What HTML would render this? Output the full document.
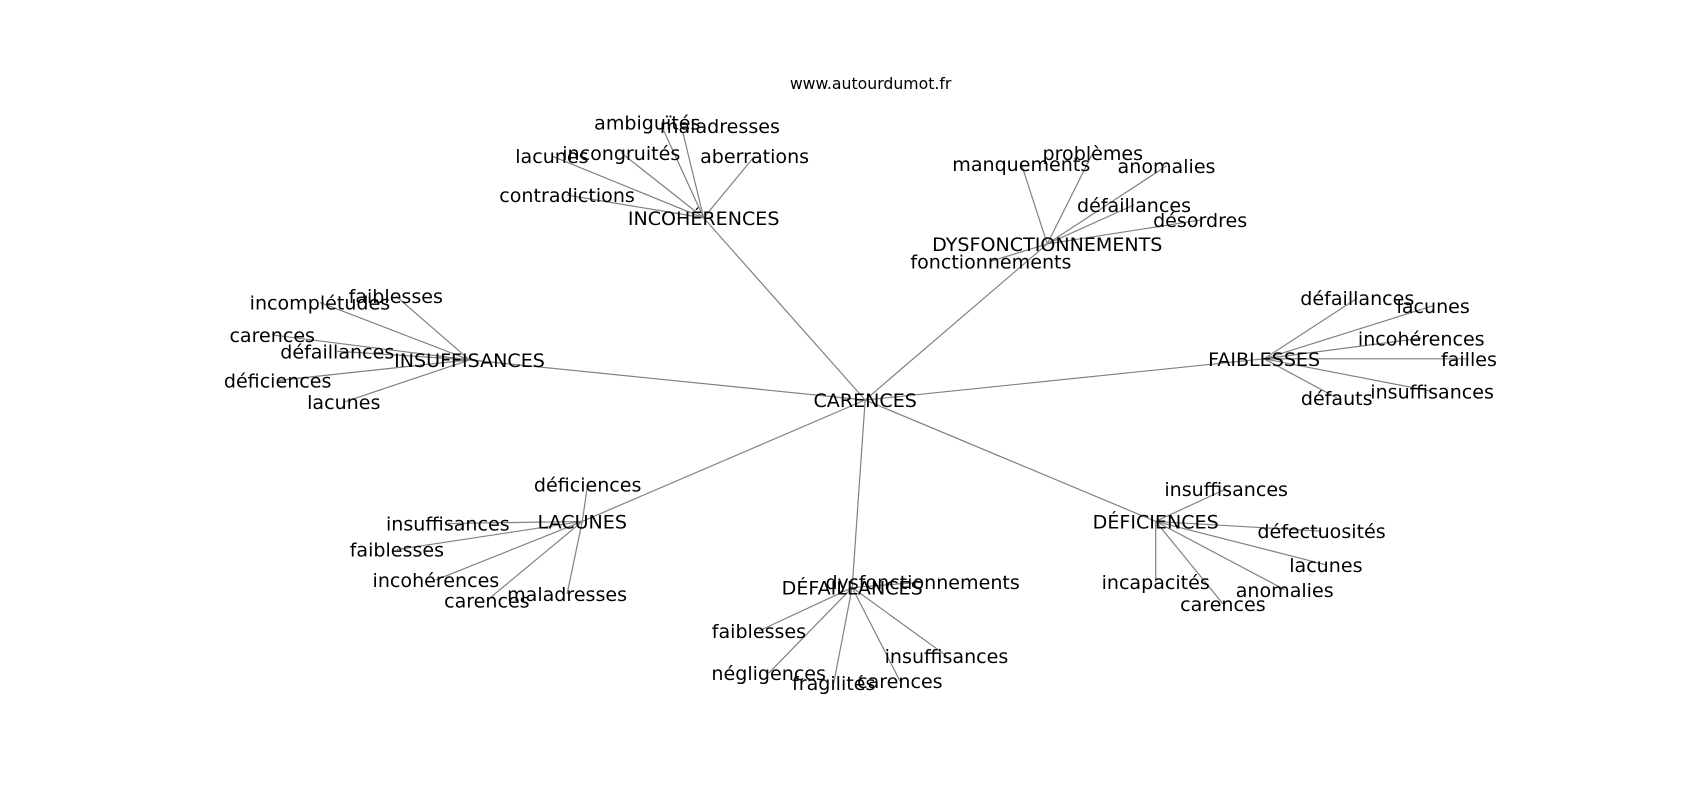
<!DOCTYPE html>
<html><head><meta charset="utf-8"><style>
html,body{margin:0;padding:0;background:#fff;width:1700px;height:800px;overflow:hidden}
text{font-family:"DejaVu Sans","Liberation Sans",sans-serif;font-size:17.6px;fill:#000;text-anchor:middle;dominant-baseline:central}
line{stroke:#808080;stroke-width:1.1}
</style></head><body>
<svg width="1700" height="800" viewBox="0 0 1568 738" xmlns="http://www.w3.org/2000/svg">
<g>
<line x1="798" y1="369" x2="649" y2="201"/><line x1="798" y1="369" x2="966" y2="225"/>
<line x1="798" y1="369" x2="433" y2="332"/><line x1="798" y1="369" x2="1166" y2="331"/>
<line x1="798" y1="369" x2="537" y2="481"/><line x1="798" y1="369" x2="786" y2="542"/>
<line x1="798" y1="369" x2="1066" y2="481"/>
<line x1="649" y1="201" x2="612" y2="120"/><line x1="649" y1="201" x2="630" y2="123"/>
<line x1="649" y1="201" x2="509" y2="144"/><line x1="649" y1="201" x2="573" y2="141"/>
<line x1="649" y1="201" x2="696" y2="144"/><line x1="649" y1="201" x2="523" y2="180"/>
<line x1="966" y1="225" x2="942" y2="151"/><line x1="966" y1="225" x2="1008" y2="141"/>
<line x1="966" y1="225" x2="1076" y2="153"/><line x1="966" y1="225" x2="1046" y2="189"/>
<line x1="966" y1="225" x2="1107" y2="203"/><line x1="966" y1="225" x2="914" y2="241"/>
<line x1="433" y1="332" x2="365" y2="273"/><line x1="433" y1="332" x2="295" y2="279"/>
<line x1="433" y1="332" x2="251" y2="309"/><line x1="433" y1="332" x2="311" y2="324"/>
<line x1="433" y1="332" x2="256" y2="351"/><line x1="433" y1="332" x2="317" y2="371"/>
<line x1="1166" y1="331" x2="1252" y2="275"/><line x1="1166" y1="331" x2="1322" y2="282"/>
<line x1="1166" y1="331" x2="1311" y2="312"/><line x1="1166" y1="331" x2="1355" y2="331"/>
<line x1="1166" y1="331" x2="1321" y2="361"/><line x1="1166" y1="331" x2="1233" y2="367"/>
<line x1="537" y1="481" x2="542" y2="447"/><line x1="537" y1="481" x2="413" y2="483"/>
<line x1="537" y1="481" x2="366" y2="507"/><line x1="537" y1="481" x2="402" y2="535"/>
<line x1="537" y1="481" x2="449" y2="554"/><line x1="537" y1="481" x2="523" y2="548"/>
<line x1="786" y1="542" x2="851" y2="537"/><line x1="786" y1="542" x2="700" y2="582"/>
<line x1="786" y1="542" x2="709" y2="621"/><line x1="786" y1="542" x2="769" y2="630"/>
<line x1="786" y1="542" x2="830" y2="628"/><line x1="786" y1="542" x2="873" y2="605"/>
<line x1="1066" y1="481" x2="1131" y2="451"/><line x1="1066" y1="481" x2="1219" y2="490"/>
<line x1="1066" y1="481" x2="1223" y2="521"/><line x1="1066" y1="481" x2="1185" y2="544"/>
<line x1="1066" y1="481" x2="1128" y2="557"/><line x1="1066" y1="481" x2="1066" y2="537"/>
</g>
<g transform="translate(0,1)">
<text x="803" y="76" style="font-size:14.5px">www.autourdumot.fr</text>
<text x="798" y="369">CARENCES</text>
<text x="649" y="201">INCOHÉRENCES</text>
<text x="597" y="113">ambiguïtés</text><text x="664" y="116">maladresses</text>
<text x="509" y="144">lacunes</text><text x="573" y="141">incongruités</text>
<text x="696" y="144">aberrations</text><text x="523" y="180">contradictions</text>
<text x="966" y="225">DYSFONCTIONNEMENTS</text>
<text x="942" y="151">manquements</text><text x="1008" y="141">problèmes</text>
<text x="1076" y="153">anomalies</text><text x="1046" y="189">défaillances</text>
<text x="1107" y="203">désordres</text><text x="914" y="241">fonctionnements</text>
<text x="433" y="332">INSUFFISANCES</text>
<text x="365" y="273">faiblesses</text><text x="295" y="279">incomplétudes</text>
<text x="251" y="309">carences</text><text x="311" y="324">défaillances</text>
<text x="256" y="351">déficiences</text><text x="317" y="371">lacunes</text>
<text x="1166" y="331">FAIBLESSES</text>
<text x="1252" y="275">défaillances</text><text x="1322" y="282">lacunes</text>
<text x="1311" y="312">incohérences</text><text x="1355" y="331">failles</text>
<text x="1321" y="361">insuffisances</text><text x="1233" y="367">défauts</text>
<text x="537" y="481">LACUNES</text>
<text x="542" y="447">déficiences</text><text x="413" y="483">insuffisances</text>
<text x="366" y="507">faiblesses</text><text x="402" y="535">incohérences</text>
<text x="449" y="554">carences</text><text x="523" y="548">maladresses</text>
<text x="786" y="542">DÉFAILLANCES</text>
<text x="851" y="537">dysfonctionnements</text><text x="700" y="582">faiblesses</text>
<text x="709" y="621">négligences</text><text x="769" y="630">fragilités</text>
<text x="830" y="628">carences</text><text x="873" y="605">insuffisances</text>
<text x="1066" y="481">DÉFICIENCES</text>
<text x="1131" y="451">insuffisances</text><text x="1219" y="490">défectuosités</text>
<text x="1223" y="521">lacunes</text><text x="1185" y="544">anomalies</text>
<text x="1128" y="557">carences</text><text x="1066" y="537">incapacités</text>
</g>
</svg>
</body></html>
